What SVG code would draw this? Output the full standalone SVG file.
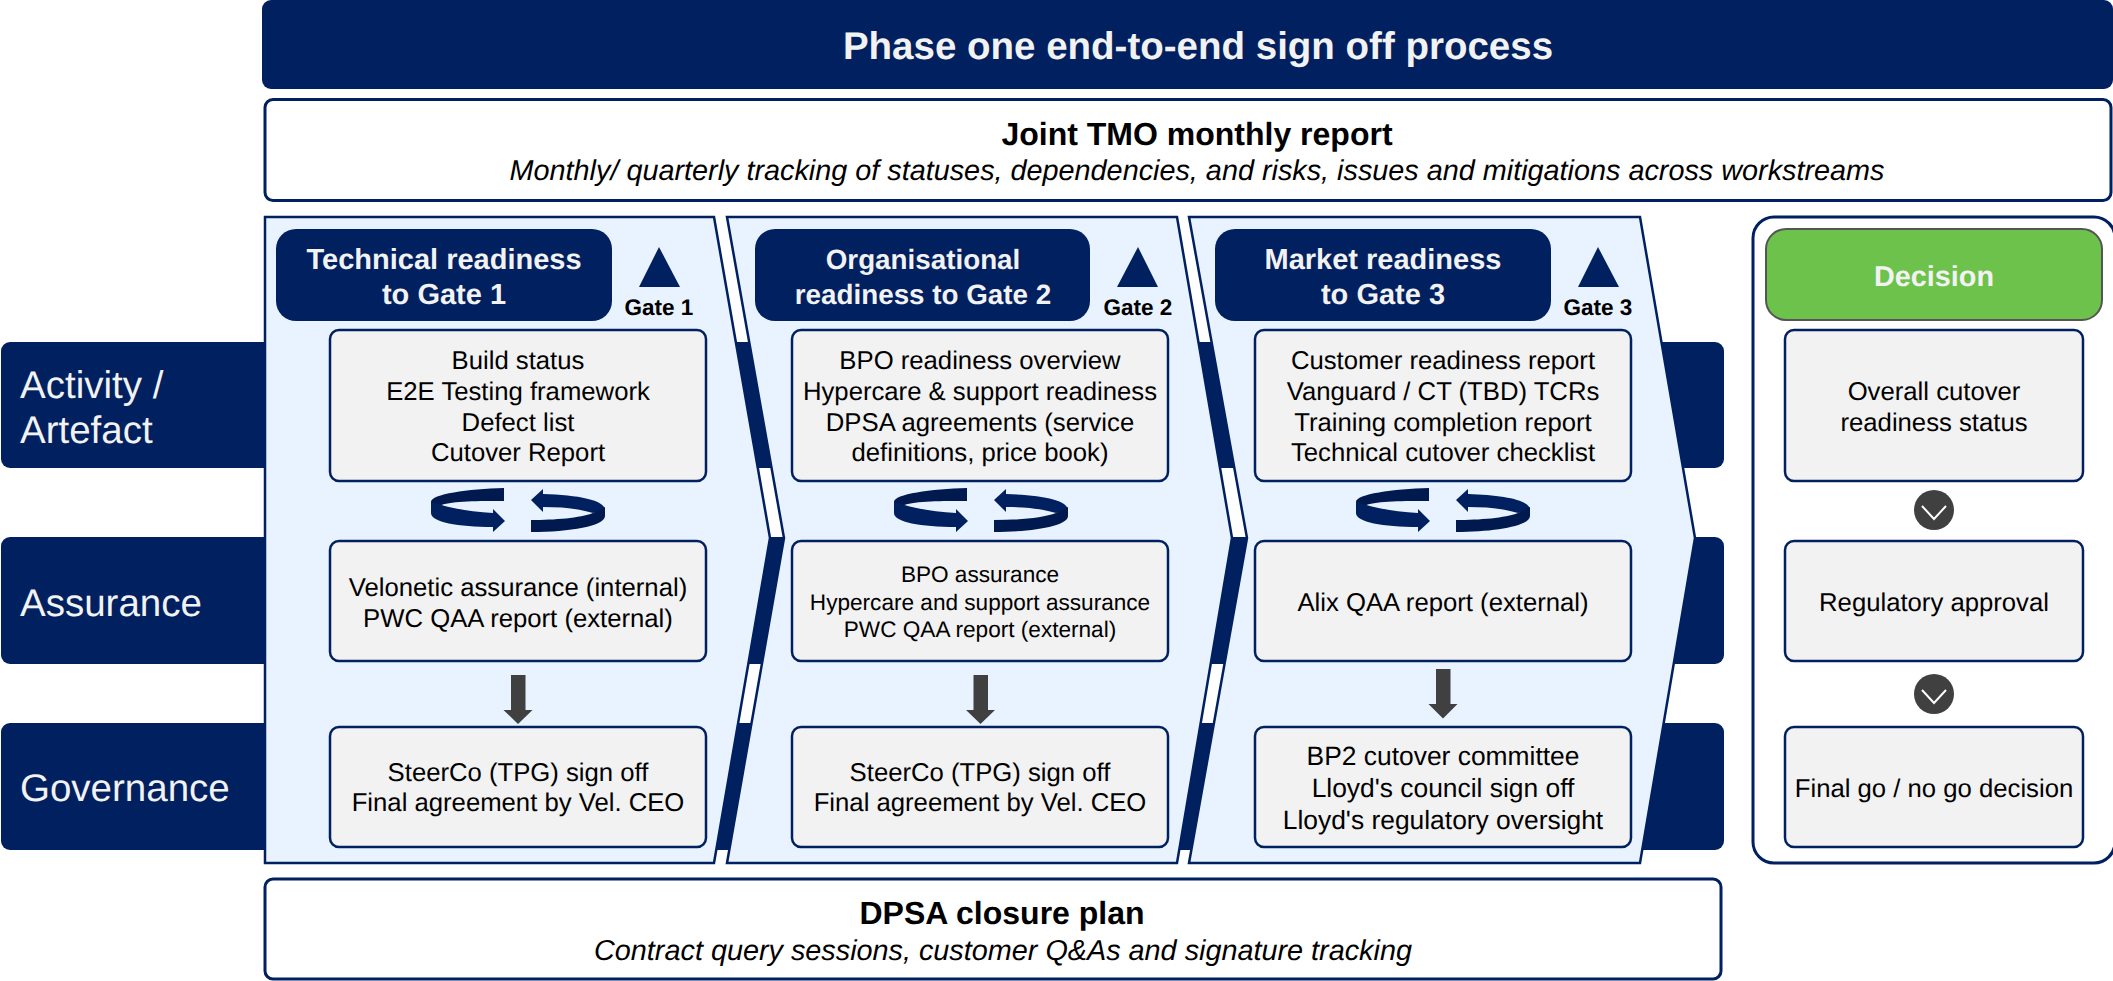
<svg xmlns="http://www.w3.org/2000/svg" xmlns:xlink="http://www.w3.org/1999/xlink" width="2113" height="981" viewBox="0 0 2113 981">
<style>
text{font-family:"Liberation Sans",Arial,sans-serif;text-anchor:middle;fill:#000;text-rendering:geometricPrecision}
.bar{fill:#002060}
.lbl{font-size:38.5px;fill:#f2f2f2;text-anchor:start}
.panel{fill:#e9f3ff;stroke:#002060;stroke-width:2.5}
.pill{fill:#002060}
.pt{font-size:29px;font-weight:bold;fill:#f2f2f2}
.pt2{font-size:27.8px;font-weight:bold;fill:#f2f2f2}
.box{fill:#f2f2f2;stroke:#002060;stroke-width:2.5}
.t{font-size:25.7px}
.tl{font-size:26.400px}
.ts{font-size:22.600px}
.gate{font-size:22.500px;font-weight:bold}
.tri{fill:#002060}
.wbox{fill:#fff;stroke:#002060;stroke-width:3}
.h{font-size:32px;font-weight:bold}
.i{font-size:28.800px;font-style:italic}
.down{fill:#404040}
.front{fill:#002060}
.back{fill:#001a50}
.circ{fill:#404040}
.chev{fill:none;stroke:#fff;stroke-width:2}
</style>
<defs>
<g id="cycle">
<path class="back" d="M504 488C468 489 431 494 431 502V513L441.500 505C452 501 480 501 504 501Z"/>
<path class="front" d="M431 502L441.500 505C455 509 475 512 493 513V509L505 521L493 532V527C458 527 431 522 431 513Z"/>
<path class="front" d="M531 500L543 489V494C578 495 605 500 605 510L593 513C575 508 560 507 543 507V512Z"/>
<path class="back" d="M531 520C555 520 580 518 593 513L605 507V516C605 526 570 532 531 532Z"/>
</g>
<g id="vee"><path class="chev" d="M-12-4L0 9L12-4"/></g>
</defs>

<g id="row-bars">
<g id="row-activity"><rect class="bar" x="1" y="342" width="1723" height="126" rx="9"/><text class="lbl" x="20" y="398">Activity /</text><text class="lbl" x="20" y="443">Artefact</text></g>
<g id="row-assurance"><rect class="bar" x="1" y="537" width="1723" height="127" rx="9"/><text class="lbl" x="20" y="616">Assurance</text></g>
<g id="row-governance"><rect class="bar" x="1" y="723" width="1723" height="127" rx="9"/><text class="lbl" x="20" y="801">Governance</text></g>
</g>

<g id="title"><rect class="bar" x="262" y="0" width="1851" height="89" rx="9"/><text x="1198" y="59" style="font-size:38.500px;font-weight:bold;fill:#f2f2f2">Phase one end-to-end sign off process</text></g>
<g id="tmo"><rect class="wbox" x="265" y="99.500" width="1846" height="101" rx="8"/><text class="h" x="1197" y="145">Joint TMO monthly report</text><text class="i" x="1197" y="180">Monthly/ quarterly tracking of statuses, dependencies, and risks, issues and mitigations across workstreams</text></g>

<g id="panel-1"><path class="panel" d="M265 217H714L770 538L714 863H265Z"/>
<rect class="pill" x="276" y="229" width="336" height="92" rx="20"/><text class="pt" x="444" y="269">Technical readiness</text><text class="pt" x="444" y="304">to Gate 1</text>
<path class="tri" d="M659 247L680 287H639Z"/><text class="gate" x="659" y="315">Gate 1</text></g>
<g id="panel-2"><path class="panel" d="M727 217H1177L1232 538L1177 863H727L784 538Z"/>
<rect class="pill" x="755" y="229" width="335" height="92" rx="20"/><text class="pt2" x="923" y="269">Organisational</text><text class="pt2" x="923" y="304">readiness to Gate 2</text>
<path class="tri" d="M1138 247L1158 287H1117Z"/><text class="gate" x="1138" y="315">Gate 2</text></g>
<g id="panel-3"><path class="panel" d="M1189 217H1640L1695 538L1640 863H1189L1247 538Z"/>
<rect class="pill" x="1215" y="229" width="336" height="92" rx="20"/><text class="pt" x="1383" y="269">Market readiness</text><text class="pt" x="1383" y="304">to Gate 3</text>
<path class="tri" d="M1598 247L1619 287H1578Z"/><text class="gate" x="1598" y="315">Gate 3</text></g>

<g id="decision-panel"><rect class="wbox" x="1753" y="217" width="362" height="646" rx="21"/></g>
<g id="decision"><rect x="1766" y="229" width="336" height="91" rx="20" fill="#6cc24a" stroke="#555" stroke-width="2"/><text x="1934" y="286" style="font-size:28.800px;font-weight:bold;fill:#f2f2f2">Decision</text></g>

<g id="n-build"><rect class="box" x="330" y="330" width="376" height="151" rx="9"/><text class="t" x="518" y="369">Build status</text><text class="t" x="518" y="400">E2E Testing framework</text><text class="t" x="518" y="431">Defect list</text><text class="t" x="518" y="461">Cutover Report</text></g>
<g id="n-velonetic"><rect class="box" x="330" y="541" width="376" height="120" rx="9"/><text class="t" x="518" y="596">Velonetic assurance (internal)</text><text class="t" x="518" y="627">PWC QAA report (external)</text></g>
<g id="n-steerco1"><rect class="box" x="330" y="727" width="376" height="120" rx="9"/><text class="t" x="518" y="781">SteerCo (TPG) sign off</text><text class="t" x="518" y="811">Final agreement by Vel. CEO</text></g>

<g id="n-bpo"><rect class="box" x="792" y="330" width="376" height="151" rx="9"/><text class="t" x="980" y="369">BPO readiness overview</text><text class="t" x="980" y="400">Hypercare &amp; support readiness</text><text class="t" x="980" y="431">DPSA agreements (service</text><text class="t" x="980" y="461">definitions, price book)</text></g>
<g id="n-bpoassure"><rect class="box" x="792" y="541" width="376" height="120" rx="9"/><text class="ts" x="980" y="582">BPO assurance</text><text class="ts" x="980" y="610">Hypercare and support assurance</text><text class="ts" x="980" y="637">PWC QAA report (external)</text></g>
<g id="n-steerco2"><rect class="box" x="792" y="727" width="376" height="120" rx="9"/><text class="t" x="980" y="781">SteerCo (TPG) sign off</text><text class="t" x="980" y="811">Final agreement by Vel. CEO</text></g>

<g id="n-customer"><rect class="box" x="1255" y="330" width="376" height="151" rx="9"/><text class="t" x="1443" y="369">Customer readiness report</text><text class="t" x="1443" y="400">Vanguard / CT (TBD) TCRs</text><text class="t" x="1443" y="431">Training completion report</text><text class="t" x="1443" y="461">Technical cutover checklist</text></g>
<g id="n-alix"><rect class="box" x="1255" y="541" width="376" height="120" rx="9"/><text class="t" x="1443" y="611">Alix QAA report (external)</text></g>
<g id="n-bp2"><rect class="box" x="1255" y="727" width="376" height="120" rx="9"/><text class="tl" x="1443" y="765">BP2 cutover committee</text><text class="tl" x="1443" y="797">Lloyd's council sign off</text><text class="tl" x="1443" y="829">Lloyd's regulatory oversight</text></g>

<g id="n-overall"><rect class="box" x="1785" y="330" width="298" height="151" rx="9"/><text class="t" x="1934" y="400">Overall cutover</text><text class="t" x="1934" y="431">readiness status</text></g>
<g id="n-regulatory"><rect class="box" x="1785" y="541" width="298" height="120" rx="9"/><text class="t" x="1934" y="611">Regulatory approval</text></g>
<g id="n-final"><rect class="box" x="1785" y="727" width="298" height="120" rx="9"/><text class="t" x="1934" y="797">Final go / no go decision</text></g>

<g id="dpsa"><rect class="wbox" x="265" y="879" width="1456" height="100" rx="8"/><text class="h" x="1002" y="924">DPSA closure plan</text><text class="i" x="1003" y="960">Contract query sessions, customer Q&amp;As and signature tracking</text></g>

<g id="connectors">
<use xlink:href="#cycle"/><use xlink:href="#cycle" x="463"/><use xlink:href="#cycle" x="925"/>
<path class="down" d="M511 675H525.500V710H532.500L518 724L503.500 710H511Z"/>
<path class="down" d="M973.500 675H988V710H995L980.500 724L966 710H973.500Z"/>
<path class="down" d="M1436 669H1450.500V704H1457.500L1443 718.500L1428.500 704H1436Z"/>
<circle class="circ" cx="1934" cy="510" r="20"/><use xlink:href="#vee" x="1934" y="510"/>
<circle class="circ" cx="1934" cy="694" r="20"/><use xlink:href="#vee" x="1934" y="694"/>
</g>
</svg>
